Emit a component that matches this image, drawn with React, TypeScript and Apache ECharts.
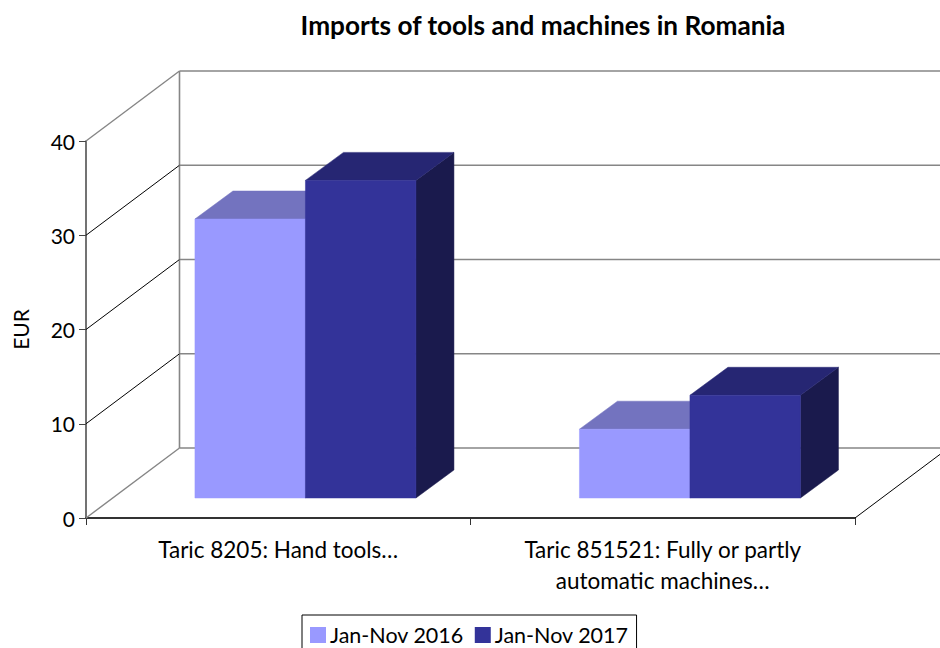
import React, { useEffect, useRef } from "react";
import * as echarts from "echarts";

const titleText = "Imports of tools and machines in Romania";
const categories = ["Taric 8205: Hand tools…", "Taric 851521: Fully or partly\nautomatic machines…"];
const yTicks = [0, 10, 20, 30, 40];
const seriesNames = ["Jan-Nov 2016", "Jan-Nov 2017"];
const values2016 = [29.6, 7.3];
const values2017 = [33.7, 10.9];

const FONT = "Lato";
const WALL = { dx: 93.5, dy: -70 };
const BASE = { dx: 27.2, dy: -20 };
const DEPTH = { dx: 38, dy: -28 };
const BAR_W = 110.5;

function poly(points: number[][], fill: string) {
  return {
    type: "polygon",
    shape: { points },
    style: { fill, stroke: fill, lineWidth: 0.5 },
  };
}

function line(x1: number, y1: number, x2: number, y2: number, stroke: string, lineWidth: number) {
  return { type: "line", shape: { x1, y1, x2, y2 }, style: { stroke, lineWidth } };
}

function barRenderer(seriesIndex: number, front: string, top: string, side: string) {
  return (_params: any, api: any) => {
    const cat = api.value(0);
    const val = api.value(1);
    const p0 = api.coord([cat, 0]);
    const p1 = api.coord([cat, val]);
    const x0 = p0[0] + BASE.dx + (seriesIndex - 1) * BAR_W;
    const x1 = x0 + BAR_W;
    const yb = p0[1] + BASE.dy;
    const yt = p1[1] + BASE.dy;
    return {
      type: "group",
      children: [
        poly([[x1, yb], [x1, yt], [x1 + DEPTH.dx, yt + DEPTH.dy], [x1 + DEPTH.dx, yb + DEPTH.dy]], side),
        poly([[x0, yt], [x1, yt], [x1 + DEPTH.dx, yt + DEPTH.dy], [x0 + DEPTH.dx, yt + DEPTH.dy]], top),
        poly([[x0, yb], [x1, yb], [x1, yt], [x0, yt]], front),
      ],
    };
  };
}

function wallRenderer(params: any, api: any) {
  const tick = api.value(1);
  const cs = params.coordSys;
  const left = cs.x;
  const right = cs.x + cs.width;
  const y = api.coord([0, tick])[1];
  const edge = tick === yTicks[0] || tick === yTicks[yTicks.length - 1];
  const children: any[] = [
    line(left, y, left + WALL.dx, y + WALL.dy, edge ? "#868686" : "#000000", edge ? 1.4 : 1),
    line(left + WALL.dx, y + WALL.dy, right + WALL.dx, y + WALL.dy, "#868686", 1.6),
  ];
  if (tick === yTicks[0]) {
    const yTop = api.coord([0, yTicks[yTicks.length - 1]])[1];
    children.push(line(left + WALL.dx, y + WALL.dy, left + WALL.dx, yTop + WALL.dy, "#868686", 1.6));
    children.push(line(right, y, right + WALL.dx, y + WALL.dy, "#000000", 1));
  }
  return { type: "group", children };
}

export default function App() {
  const ref = useRef<HTMLDivElement>(null);
  useEffect(() => {
    const chart = echarts.init(ref.current!, undefined, { renderer: "svg" });
    chart.setOption({
      animation: false,
      backgroundColor: "#ffffff",
      title: {
        text: titleText,
        left: 538,
        top: 7,
        textAlign: "center",
        textStyle: { fontFamily: FONT, fontSize: 26.2, fontWeight: "bold", color: "#000000" },
      },
      legend: {
        data: seriesNames,
        left: 302,
        top: 615,
        padding: [9, 8, 14, 8],
        itemGap: 11,
        itemWidth: 16,
        itemHeight: 16,
        icon: "rect",
        borderColor: "#000000",
        borderWidth: 1,
        selectedMode: false,
        textStyle: { fontFamily: FONT, fontSize: 21.5, color: "#000000", padding: [0, 0, 0, -1] },
      },
      grid: { left: 86, right: 85, top: 141, bottom: 130 },
      xAxis: {
        type: "category",
        data: categories,
        axisLine: { lineStyle: { color: "#333333", width: 2 } },
        axisTick: { show: true, length: 7, lineStyle: { color: "#333333", width: 1 } },
        axisLabel: {
          fontFamily: FONT,
          fontSize: 22.5,
          lineHeight: 31,
          color: "#000000",
          margin: 16,
        },
      },
      yAxis: {
        type: "value",
        min: 0,
        max: 40,
        interval: 10,
        name: "EUR",
        nameLocation: "middle",
        nameRotate: 90,
        nameGap: 55,
        nameTextStyle: { fontFamily: FONT, fontSize: 21, color: "#000000" },
        splitLine: { show: false },
        axisLine: { show: true, lineStyle: { color: "#444444", width: 1.5 } },
        axisTick: { show: true, length: 7, lineStyle: { color: "#444444", width: 1 } },
        axisLabel: { fontFamily: FONT, fontSize: 21, color: "#000000", margin: 11 },
      },
      series: [
        {
          type: "custom",
          name: "walls",
          silent: true,
          z: 1,
          data: yTicks.map((t) => [0, t]),
          encode: { x: 0, y: 1 },
          renderItem: wallRenderer,
        },
        {
          type: "custom",
          name: seriesNames[0],
          z: 2,
          itemStyle: { color: "#9999FF" },
          data: values2016.map((v, i) => [i, v]),
          encode: { x: 0, y: 1 },
          renderItem: barRenderer(0, "#9999FF", "#7373BF", "#4D4D80"),
        },
        {
          type: "custom",
          name: seriesNames[1],
          z: 3,
          itemStyle: { color: "#333399" },
          data: values2017.map((v, i) => [i, v]),
          encode: { x: 0, y: 1 },
          renderItem: barRenderer(1, "#333399", "#262673", "#1A1A4D"),
        },
      ],
    });
    return () => chart.dispose();
  }, []);
  return (
    <div
      ref={ref}
      style={{ position: "absolute", left: 0, top: 0, width: 940, height: 648, overflow: "hidden" }}
    />
  );
}
